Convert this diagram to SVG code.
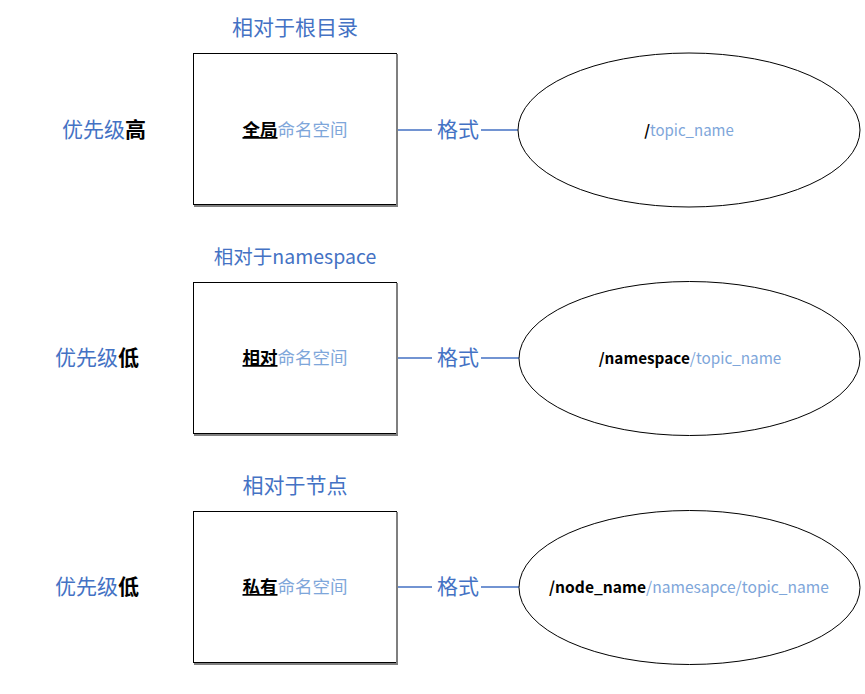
<svg xmlns="http://www.w3.org/2000/svg" width="865" height="694" viewBox="0 0 865 694">
<style>
text{font-family:"Microsoft YaHei","Noto Sans CJK SC","Liberation Sans",sans-serif}
.t{font-size:21px;fill:#4472C4}
.k{fill:#000;font-weight:bold}
.in{font-size:17.5px;fill:#7EA6DA}
.e{font-size:15px;fill:#7EA6DA}
.box{fill:#fff;stroke:#000;stroke-width:1}
.sh{fill:none;stroke:#7f7f7f;stroke-width:2}
.el{fill:#fff;stroke:#000;stroke-width:1}
.ln{stroke:#4472C4;stroke-width:1.5;fill:none}
</style>
<rect width="865" height="694" fill="#fff"/>
<g id="connectors">
<path class="ln" d="M398 130H432M481 130H518"/>
<path class="ln" d="M398 358H432M481 358H519"/>
<path class="ln" d="M398 587H432M481 587H519"/>
<text class="t" x="458" y="137" text-anchor="middle">格式</text>
<text class="t" x="458" y="365" text-anchor="middle">格式</text>
<text class="t" x="458" y="594" text-anchor="middle">格式</text>
</g>
<g id="node1">
<text class="t" x="295" y="35" text-anchor="middle">相对于根目录</text>
<text class="t" x="62" y="137">优先级<tspan class="k">高</tspan></text>
<rect class="box" x="193.5" y="53.5" width="203" height="151"/>
<path class="sh" d="M397 54V206H194"/>
<text class="in" x="295" y="136" text-anchor="middle"><tspan class="k" text-decoration="underline">全局</tspan>命名空间</text>
</g>
<g id="ellipse1">
<ellipse class="el" cx="689" cy="130" rx="171" ry="77"/>
<text class="e" x="689" y="136" text-anchor="middle"><tspan class="k">/</tspan>topic_name</text>
</g>
<g id="node2">
<text class="t" x="295" y="264" text-anchor="middle" style="font-size:19.5px">相对于namespace</text>
<text class="t" x="55" y="365">优先级<tspan class="k">低</tspan></text>
<rect class="box" x="193.5" y="282.5" width="203" height="151"/>
<path class="sh" d="M397 283V435H194"/>
<text class="in" x="295" y="364" text-anchor="middle"><tspan class="k" text-decoration="underline">相对</tspan>命名空间</text>
</g>
<g id="ellipse2">
<ellipse class="el" cx="689.5" cy="358.5" rx="170.5" ry="77"/>
<text class="e" x="690" y="364" text-anchor="middle" style="font-size:15.3px"><tspan class="k">/namespace</tspan>/topic_name</text>
</g>
<g id="node3">
<text class="t" x="295" y="493" text-anchor="middle">相对于节点</text>
<text class="t" x="55" y="594">优先级<tspan class="k">低</tspan></text>
<rect class="box" x="193.5" y="511.5" width="203" height="151"/>
<path class="sh" d="M397 512V664H194"/>
<text class="in" x="295" y="593" text-anchor="middle"><tspan class="k" text-decoration="underline">私有</tspan>命名空间</text>
</g>
<g id="ellipse3">
<ellipse class="el" cx="689.5" cy="587.5" rx="170.5" ry="77"/>
<text class="e" x="689" y="593" text-anchor="middle" style="font-size:15.6px"><tspan class="k">/node_name</tspan>/namesapce/topic_name</text>
</g>
</svg>
